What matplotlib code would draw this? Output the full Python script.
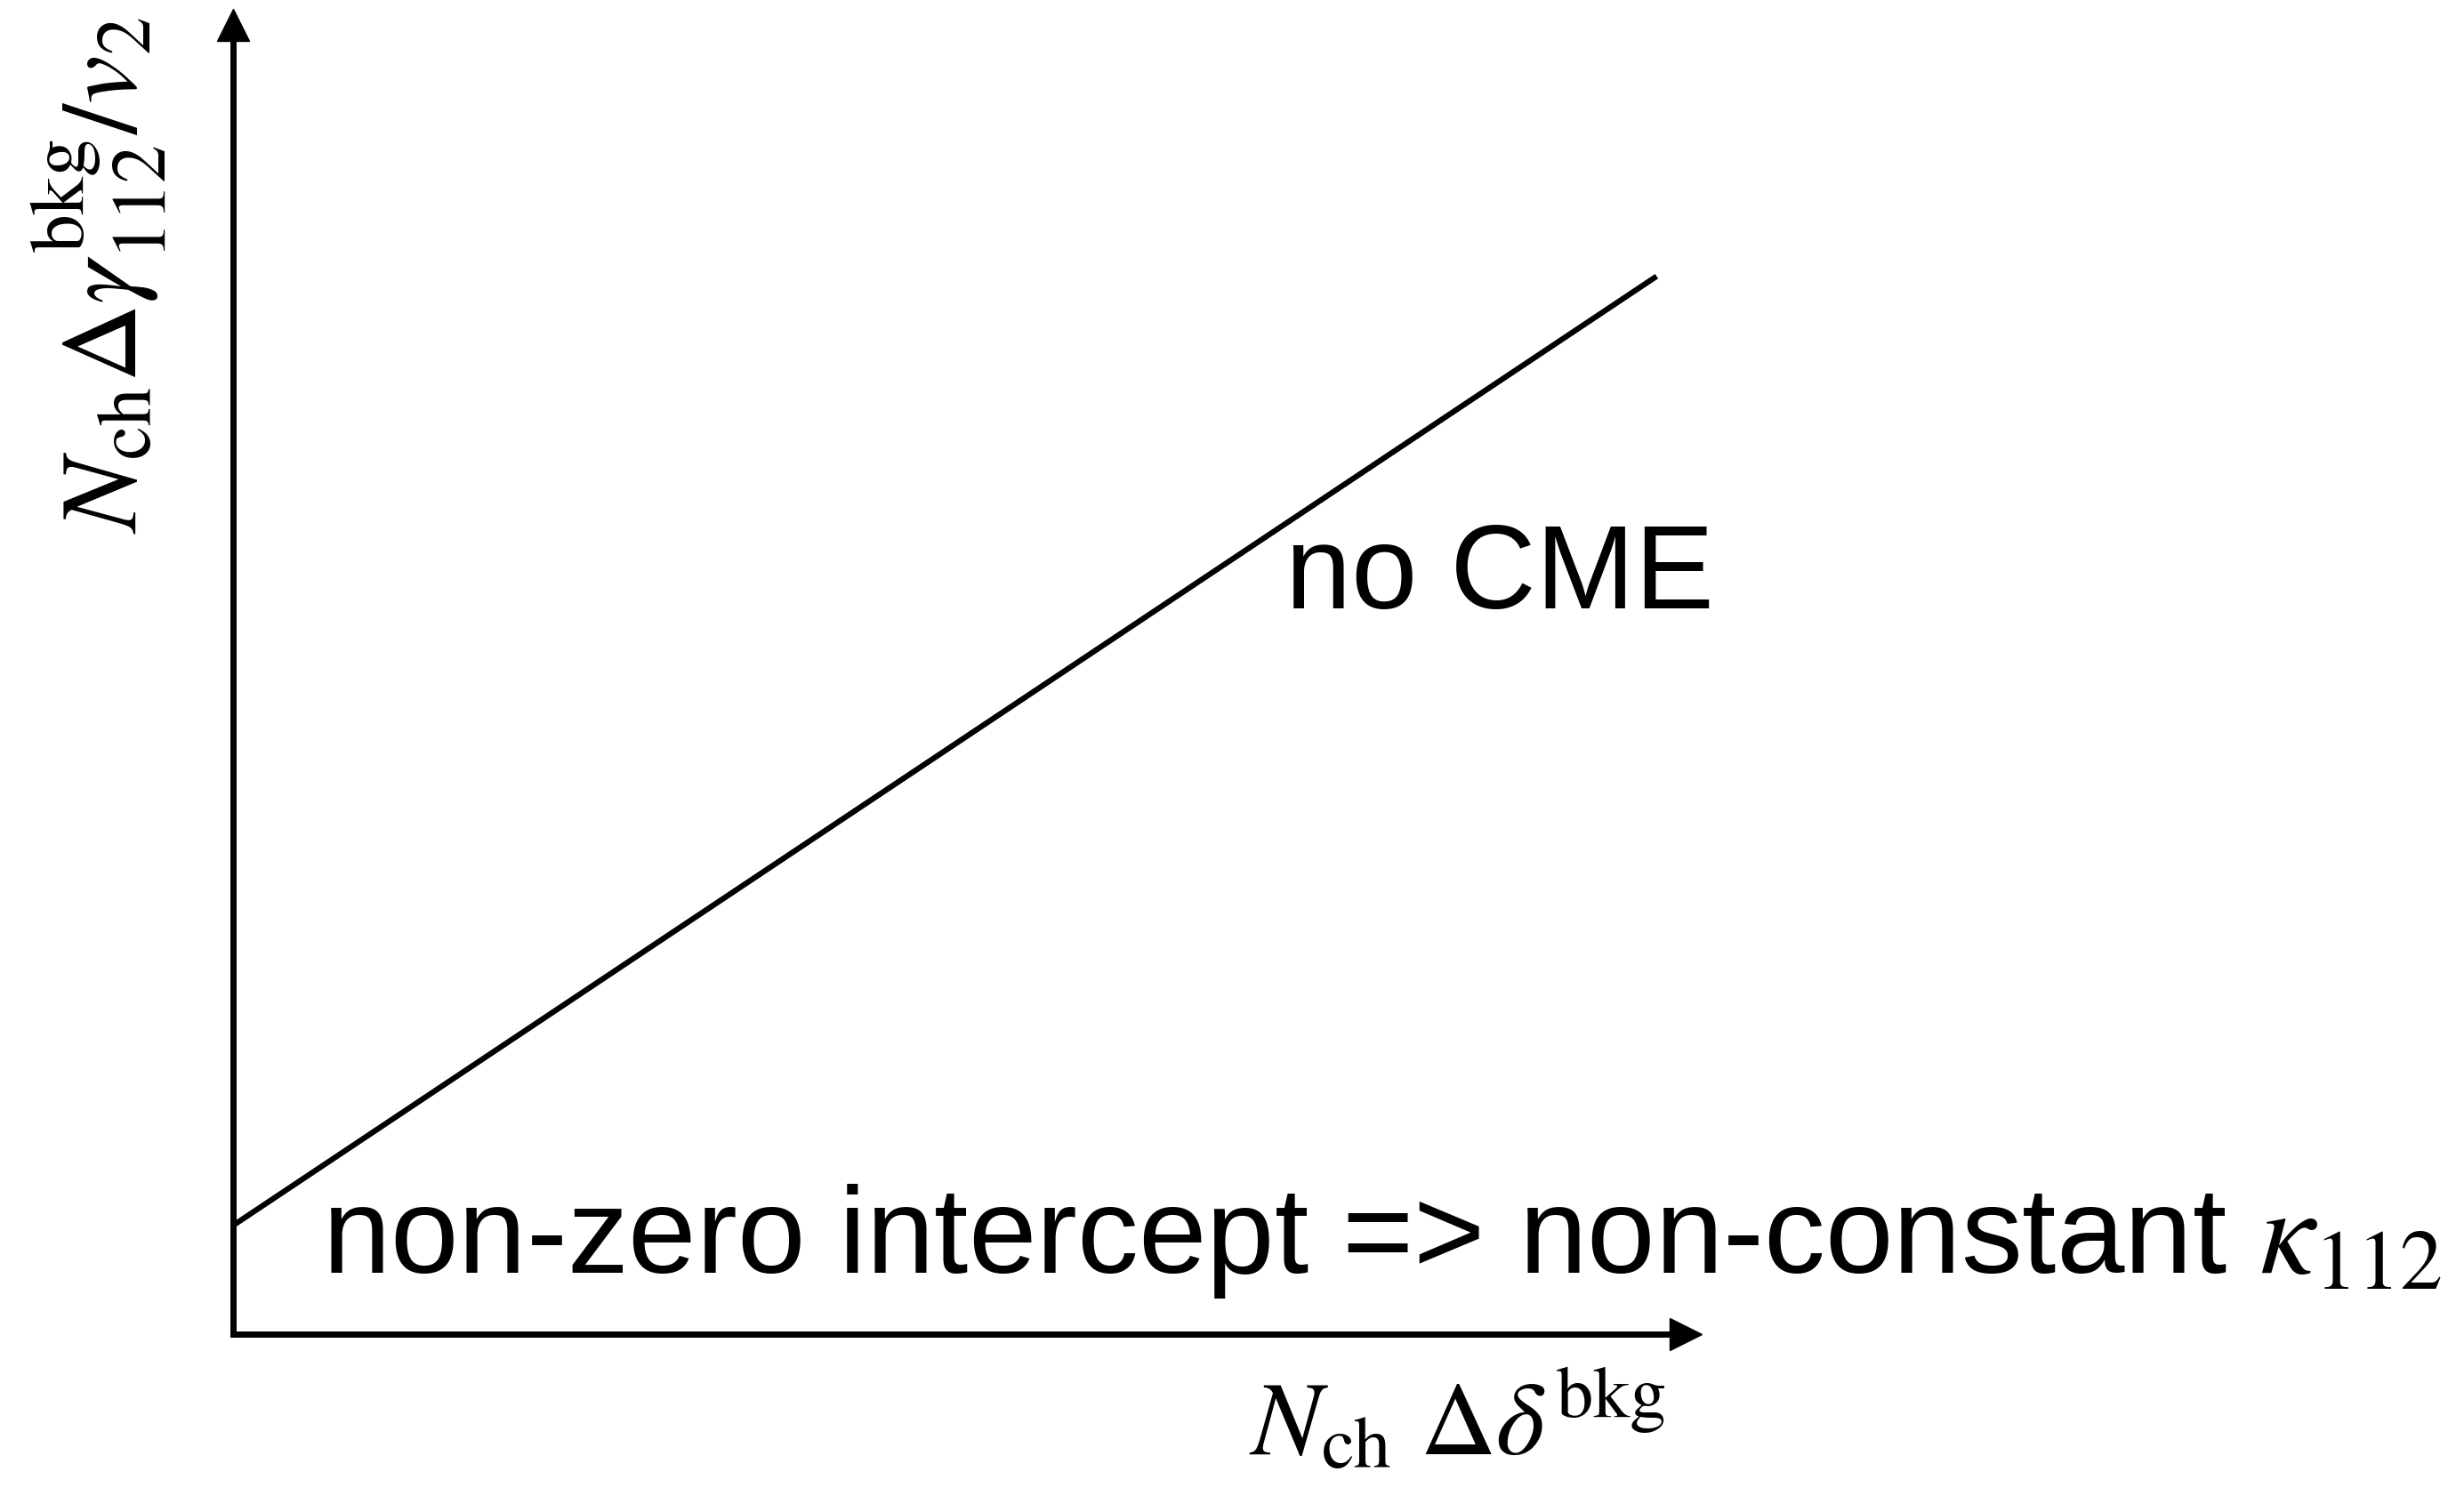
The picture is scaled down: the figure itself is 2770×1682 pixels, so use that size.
import matplotlib.pyplot as plt
import numpy as np

plt.rcParams['font.family'] = ['Liberation Sans', 'DejaVu Sans']
plt.rcParams['mathtext.fontset'] = 'stix'

# schematic line: background-only expectation with non-zero intercept
x_line = np.array([0.0, 9.8])
y_line = np.array([0.83, 8.08])

line_label = "no CME"
note = r"non-zero intercept => non-constant $\kappa_{112}$"
xlab = r"$N_{\rm ch}\ \Delta\delta^{\rm bkg}$"
ylab = r"$N_{\rm ch}\Delta\gamma^{\rm bkg}_{112}/v_2$"

W, H = 2770, 1682
fig = plt.figure(figsize=(W / 100, H / 100), dpi=100)
# axes corner at the arrow origin
x0, y0 = 262, 1500
x1, y1 = 1895, 28
ax = fig.add_axes([x0 / W, 1 - y0 / H, (x1 - x0) / W, (y0 - y1) / H])
ax.set_xlim(0, 10)
ax.set_ylim(0, 10)

for s in ['top', 'right']:
    ax.spines[s].set_visible(False)
for s in ['left', 'bottom']:
    ax.spines[s].set_linewidth(5)
ax.set_xticks([])
ax.set_yticks([])

# arrow heads
ax.plot(1, 0, '>k', ms=26, transform=ax.transAxes, clip_on=False)
ax.plot(0, 1, '^k', ms=26, transform=ax.transAxes, clip_on=False)

ax.plot(x_line, y_line, color='black', lw=4.5, solid_capstyle='butt')

fig.text(1445 / W, 1 - 684 / H, line_label, fontsize=96, ha='left', va='baseline')
fig.text(362 / W, 1 - 1431 / H, note, fontsize=99, ha='left', va='baseline')
fig.text(1404 / W, 1 - 1636 / H, xlab, fontsize=85, ha='left', va='baseline')
fig.text(190 / W, 1 - 600 / H, ylab, fontsize=88, rotation=90, ha='right', va='bottom')

fig.savefig('out.png', dpi=100)
